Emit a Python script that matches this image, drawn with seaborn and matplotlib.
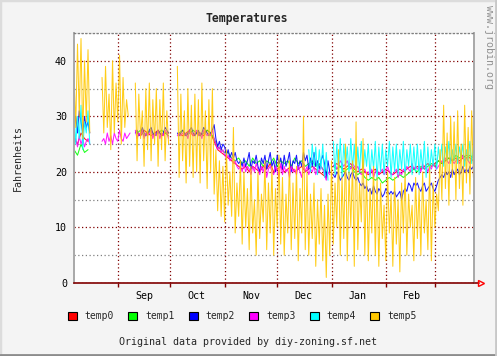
"""
Temperatures chart (JRobin / RRD style) redrawn with seaborn
"""

import numpy as np
import pandas as pd
import matplotlib
matplotlib.use("Agg")
import matplotlib.pyplot as plt
import matplotlib.dates as mdates
from matplotlib.ticker import MultipleLocator, NullFormatter
from matplotlib.patches import Patch, Rectangle
from matplotlib.lines import Line2D
import seaborn as sns

nan = np.nan
START = "2002-08-07"
X_END = "2003-03-23 08:00"

SERIES = ["temp0", "temp1", "temp2", "temp3", "temp4", "temp5"]
COLORS = ["#FF0000", "#00FF00", "#0000FF", "#FF00FF", "#00FFFF", "#FFC800"]

# ── Data ──────────────────────────────────────────────────────────────────────
# temp0 / temp1: one reading every 2 days, 10 per row
temp0 = [
    26, 25, 27, 26, 25.5, nan, nan, nan, nan, nan,
    nan, nan, nan, nan, nan, nan, nan, nan, 27, 26.5,
    27.5, 27, 26.5, 27, 27.5, 26.5, 27, 27, nan, nan,
    27, 26.5, 27, 27.5, 26.5, 27, 27, 26.5, 27.5, 27,
    25.5, 24, 23.5, 23, 22.5, 22, 21.5, 21, 20.5, 21,
    20, 21, 20.5, 20, 21, 20.5, 21.5, 20, 20.5, 21,
    20, 20.5, 21, 20, 20.5, 21, 20, 20.5, 21, 20.5,
    20, 19.5, 19, nan, 21, 21.5, 21, 20.5, 21, 21.5,
    20.5, 20, 20.5, 20, 19.5, 20, 20.5, 19.5, 20, 20.5,
    20, 19.5, 20, 20.5, 20, 20.5, 21, 20.5, 21, 20.5,
    21, 21.5, 21, 21.5, 22, 21.5, 22, 22.5, 22, 22.5,
    22, 22.5, 23, 22.5, 22,
]
temp1 = [
    24, 23, 25, 23.5, 24, nan, nan, nan, nan, nan,
    nan, nan, nan, nan, nan, nan, nan, nan, 27, 27.5,
    26.5, 27, 27.5, 26.5, 27, 27.5, 27, 26.5, nan, nan,
    27, 27.5, 26.5, 27, 27.5, 27, 26.5, 27, 27.5, 27,
    26, 24.5, 24, 23.5, 23.5, 22.5, 22, 22.5, 21.5, 22,
    21, 22.5, 21.5, 22, 21, 22, 21.5, 22.5, 21, 22,
    21.5, 22, 21, 22.5, 21.5, 22, 21, 21.5, 22, 21,
    21.5, 20.5, 20, nan, 21, 20.5, 21, 20, 20.5, 21,
    20, 19.5, 20, 19, 18.5, 19, 18.5, 19, 18, 18.5,
    19, 18.5, 19, 19.5, 19, 19.5, 20, 20.5, 20, 21,
    20.5, 21, 21.5, 21, 22, 21.5, 22, 22.5, 22, 23,
    22.5, 23, 22.5, 23, 22.5,
]

# temp2 .. temp5: daily readings, one week per row
temp2 = [
    28, 30, 27, 31, 29, 27, 30,
    28, 29, 27, nan, nan, nan, nan,
    nan, nan, nan, nan, nan, nan, nan,
    nan, nan, nan, nan, nan, nan, nan,
    nan, nan, nan, nan, nan, nan, nan,
    27, 27.5, 26.5, 27, 28, 27, 26.5,
    27, 27.5, 28, 27, 26.5, 27, 27.5,
    27, 26.5, 27, 28, 27.5, 27, nan,
    nan, nan, nan, 27, 26.5, 27, 27.5,
    27, 26.5, 27, 27.5, 28, 27, 26.5,
    27, 27.5, 26.5, 27, 28, 27.5, 27,
    26.5, 27, 27.5, 28.5, 26, 24.5, 25.5,
    24, 25, 24.5, 23, 24, 22.5, 23.5,
    22.5, 23.5, 22, 21.5, 22, 21, 22.5,
    21, 22, 23.5, 20.5, 22, 21.5, 23,
    21, 20, 22.5, 21.5, 23, 20.5, 22,
    23.5, 21, 22, 20, 23, 21.5, 22.5,
    20.5, 23, 21, 22, 23.5, 20, 22,
    21.5, 23, 20.5, 22, 21, 23.5, 22,
    23, 20.5, 22.5, 21, 23.5, 21, 22,
    20.5, 22, 23, 21.5, 19, 22, 20,
    nan, 19.5, 19, 20, 19.5, 18.5, 19,
    19.5, 20, 19, 18.5, 19.5, 20, 19,
    18.5, 19, 18, 17.5, 18, 17, 17.5,
    16.5, 17, 16, 17.5, 16.5, 16, 17,
    16.5, 15.5, 16, 17, 16.5, 16, 16.5,
    16, 16.5, 15.5, 16, 16.5, 15, 16.5,
    17, 16.5, 18, 17.5, 16.5, 18, 17.5,
    18, 17, 16.5, 17.5, 18, 16.5, 17,
    17.5, 18, 17, 16.5, 17.5, 18.5, 19,
    19.5, 19, 20, 19.5, 20, 19, 20.5,
    19.5, 20, 20.5, 19.5, 20, 21, 20,
    20.5, 20, 21, 20.5, 21, 21.5,
]
temp3 = [
    25.5, 26, 24.5, 26.5, 25, 26, 24.5,
    25.5, 26, 25, nan, nan, nan, nan,
    nan, nan, 25.5, 26, 25, 27, 25.5,
    26.5, 25, 27, 26, 25.5, 27.5, 26,
    25.5, 27, 26, 26.5, 27, nan, nan,
    27.5, 26, 27, 26.5, 27.5, 26, 27,
    26.5, 27, 27.5, 26, 27, 26.5, 27.5,
    26, 27, 26.5, 27.5, 27, 26, nan,
    nan, nan, nan, 26.5, 27, 26.5, 27,
    26.5, 27, 26, 27.5, 27, 26.5, 27,
    27.5, 26.5, 27, 26, 27.5, 27, 26.5,
    27, 26.5, 27.5, 26, 25, 24, 24.5,
    23.5, 24, 23, 22.5, 23, 22, 22.5,
    21.5, 22, 21, 20.5, 21, 20, 21.5,
    20, 21, 20.5, 19.5, 21, 20, 21.5,
    20.5, 19.5, 21, 20, 21.5, 19, 20.5,
    21, 20, 19.5, 21, 20, 19, 21.5,
    19.5, 21, 20, 20.5, 19, 21, 20,
    20.5, 19.5, 21, 20, 19, 21.5, 20,
    21, 19.5, 20.5, 20, 21, 19.5, 20.5,
    20, 21, 20.5, 19.5, 18.5, 20, 19.5,
    nan, 21, 21.5, 20.5, 21, 22, 21.5,
    21, 21.5, 22, 21, 20.5, 21.5, 21,
    20.5, 21, 20, 19.5, 20, 20.5, 19.5,
    20, 19.5, 20.5, 19, 20, 20.5, 19.5,
    20, 20.5, 19.5, 20, 21, 20, 19.5,
    19.5, 20, 20.5, 19, 20, 19.5, 20.5,
    20, 21, 20.5, 20, 21.5, 20.5, 21,
    20.5, 21, 20, 21.5, 20.5, 21, 20,
    21, 20.5, 21.5, 21, 20.5, 21, 21.5,
    22, 21.5, 22.5, 22, 21.5, 22.5, 22,
    21.5, 22, 22.5, 21.5, 22, 23, 22,
    22.5, 22, 21.5, 22.5, 23, 22,
]
temp4 = [
    31, 25, 30, 26, 32, 24, 29,
    27, 31, 25, nan, nan, nan, nan,
    *([nan] * 119),
    nan, 24, 20, 25, 21, 24.5, 19.5,
    24, 20.5, 25, 19, 23.5, 18.5, nan,
    nan, 25.5, 19.5, 25, 20, 26, 19,
    25, 21, 24.5, 19.5, 26, 20.5, 25,
    19, 24.5, 20, 25.5, 19.5, 24, 21,
    25, 19, 24, 20.5, 25.5, 18.5, 24.5,
    20, 25, 19.5, 24, 21, 25.5, 19,
    24.5, 20, 25, 19.5, 24, 20.5, 25.5,
    19, 24, 21, 25, 19.5, 24.5, 20,
    25, 19.5, 24, 20.5, 25.5, 19, 24.5,
    20, 24, 21, 25, 20.5, 24.5, 21.5,
    25, 21, 24.5, 22, 25.5, 21.5, 24,
    22, 25, 21.5, 24.5, 22.5, 25, 21,
    24, 22, 25.5, 21.5, 24.5, 22,
]
temp5 = [
    38, 28, 43, 30, 44, 26, 40,
    29, 42, 27, nan, nan, nan, nan,
    nan, nan, 37, 27, 39, 28, 34,
    24, 40, 27, 36, 29, 41, 25,
    37, 28, 33, 30, nan, nan, nan,
    36, 22, 34, 26, 31, 21, 35,
    24, 36, 22, 33, 25, 35, 21,
    33, 24, 36, 22, 31, 25, nan,
    nan, nan, nan, 39, 19, 34, 22,
    31, 18, 35, 21, 32, 19, 34,
    20, 33, 18, 36, 22, 31, 17,
    33, 20, 35, 16, 24, 13, 22,
    12, 21, 11, 24, 14, 20, 12,
    28, 9, 18, 12, 22, 7, 20,
    10, 17, 6, 21, 9, 15, 5,
    20, 8, 16, 11, 22, 6, 18,
    9, 21, 5, 17, 10, 23, 7,
    19, 5, 16, 9, 22, 6, 18,
    8, 21, 4, 17, 9, 30, 6,
    20, 5, 16, 8, 18, 3, 15,
    7, 17, 4, 14, 1, 16, 5,
    22, 7, 18, 10, 24, 5, 19,
    8, 25, 4, 20, 10, 22, 3,
    29, 6, 18, 11, 26, 5, 20,
    4, 17, 9, 21, 5, 19, 3,
    18, 8, 14, 4, 20, 9, 16,
    3, 19, 7, 15, 2, 18, 9,
    20, 5, 16, 10, 14, 4, 19,
    8, 17, 5, 20, 9, 15, 6,
    21, 4, 18, 10, 16, 13, 24,
    15, 32, 17, 27, 14, 30, 19,
    29, 15, 31, 17, 25, 14, 32,
    18, 28, 16, 31, 19, 26,
]

DATA = [(temp0, "2D"), (temp1, "2D"), (temp2, "D"),
        (temp3, "D"), (temp4, "D"), (temp5, "D")]

# ── Style ─────────────────────────────────────────────────────────────────────
sns.set_theme(style="white")
MONO = ["DejaVu Sans Mono", "DejaVu Sans"]
plt.rcParams["font.family"] = MONO
plt.rcParams["axes.unicode_minus"] = False

BG = "#F4F4F4"
DARKRED = "#800000"
DOTS = (0, (1, 2))

fig = plt.figure(figsize=(4.97, 3.56), dpi=100, facecolor=BG)
ax = fig.add_axes([74 / 497, 73 / 356, 400 / 497, 250 / 356])
ax.set_facecolor("white")

# ── Lines ─────────────────────────────────────────────────────────────────────
for (vals, freq), color in zip(DATA, COLORS):
    d = pd.DataFrame({"t": pd.date_range(START, periods=len(vals), freq=freq),
                      "v": vals})
    d["seg"] = d["v"].isna().cumsum()
    d = d.dropna()
    sns.lineplot(data=d, x="t", y="v", units="seg", estimator=None,
                 color=color, lw=0.75, alpha=0.9, ax=ax, legend=False)

# ── Axes ──────────────────────────────────────────────────────────────────────
ax.set_xlim(pd.Timestamp(START), pd.Timestamp(X_END))
ax.set_ylim(0, 45)
ax.set_xlabel("")
ax.set_ylabel("")

ax.xaxis.set_major_locator(mdates.MonthLocator())
ax.xaxis.set_major_formatter(NullFormatter())
ax.xaxis.set_minor_locator(mdates.MonthLocator(bymonth=[9, 10, 11, 12, 1, 2],
                                               bymonthday=16))
ax.xaxis.set_minor_formatter(mdates.DateFormatter("%b"))
ax.yaxis.set_major_locator(MultipleLocator(10))
ax.yaxis.set_minor_locator(MultipleLocator(5))

ax.set_axisbelow(True)
ax.grid(which="major", axis="both", color=DARKRED, linestyle=DOTS, lw=0.9)
ax.grid(which="minor", axis="y", color="#808080", linestyle=DOTS, lw=0.9)

ax.tick_params(axis="x", which="major", bottom=True, length=3, width=1,
               color=DARKRED, direction="out")
ax.tick_params(axis="x", which="minor", bottom=True, length=0, pad=6,
               labelsize=7.2, labelcolor="black")
ax.tick_params(axis="y", which="both", left=False, length=0, pad=5,
               labelsize=7.2, labelcolor="black")

for side in ["left", "right"]:
    ax.spines[side].set_color("#A8A8A8")
    ax.spines[side].set_linewidth(1.4)
ax.spines["bottom"].set_color(DARKRED)
ax.spines["bottom"].set_linewidth(1.2)
ax.spines["top"].set_color("#808080")
ax.spines["top"].set_linestyle(DOTS)
ax.spines["top"].set_linewidth(0.9)

# arrow at the end of the time axis
ax.add_line(Line2D([1.0, 1.012], [0, 0], color=DARKRED, lw=1.2,
                   transform=ax.transAxes, clip_on=False))
ax.plot([1.017], [0], marker=">", ms=5, mfc="none", mec="red", mew=1,
        transform=ax.transAxes, clip_on=False)

# ── Texts ─────────────────────────────────────────────────────────────────────
fig.text(0.497, 0.949, "Temperatures", ha="center", va="center",
         fontsize=8.3, fontweight="bold")
fig.text(0.036, 0.555, "Fahrenheits", rotation=90, ha="center", va="center",
         fontsize=7.2)
fig.text(0.984, 0.868, "www.jrobin.org", rotation=270, ha="center",
         va="center", fontsize=7.2, color="#909090")
fig.text(0.498, 0.040, "Original data provided by diy-zoning.sf.net",
         ha="center", va="center", fontsize=7.2)

handles = [Patch(facecolor=c, edgecolor="black", lw=0.8) for c in COLORS]
fig.legend(handles, SERIES, loc="center", bbox_to_anchor=(0.487, 0.112),
           ncol=6, frameon=False, fontsize=7, handlelength=0.95,
           handleheight=0.95, handletextpad=0.8, columnspacing=1.45,
           borderpad=0)

# bevelled frame round the picture
fig.add_artist(Rectangle((0, 0), 1, 1, transform=fig.transFigure,
                         fill=False, edgecolor="#DCDCDC", lw=2.5))
fig.add_artist(Line2D([0, 1], [0.002, 0.002], transform=fig.transFigure,
                      color="#8C8C8C", lw=2))
fig.add_artist(Line2D([0.998, 0.998], [0, 1], transform=fig.transFigure,
                      color="#C8C8C8", lw=2))

fig.savefig("out.png", dpi=100, facecolor=BG)
plt.close(fig)
